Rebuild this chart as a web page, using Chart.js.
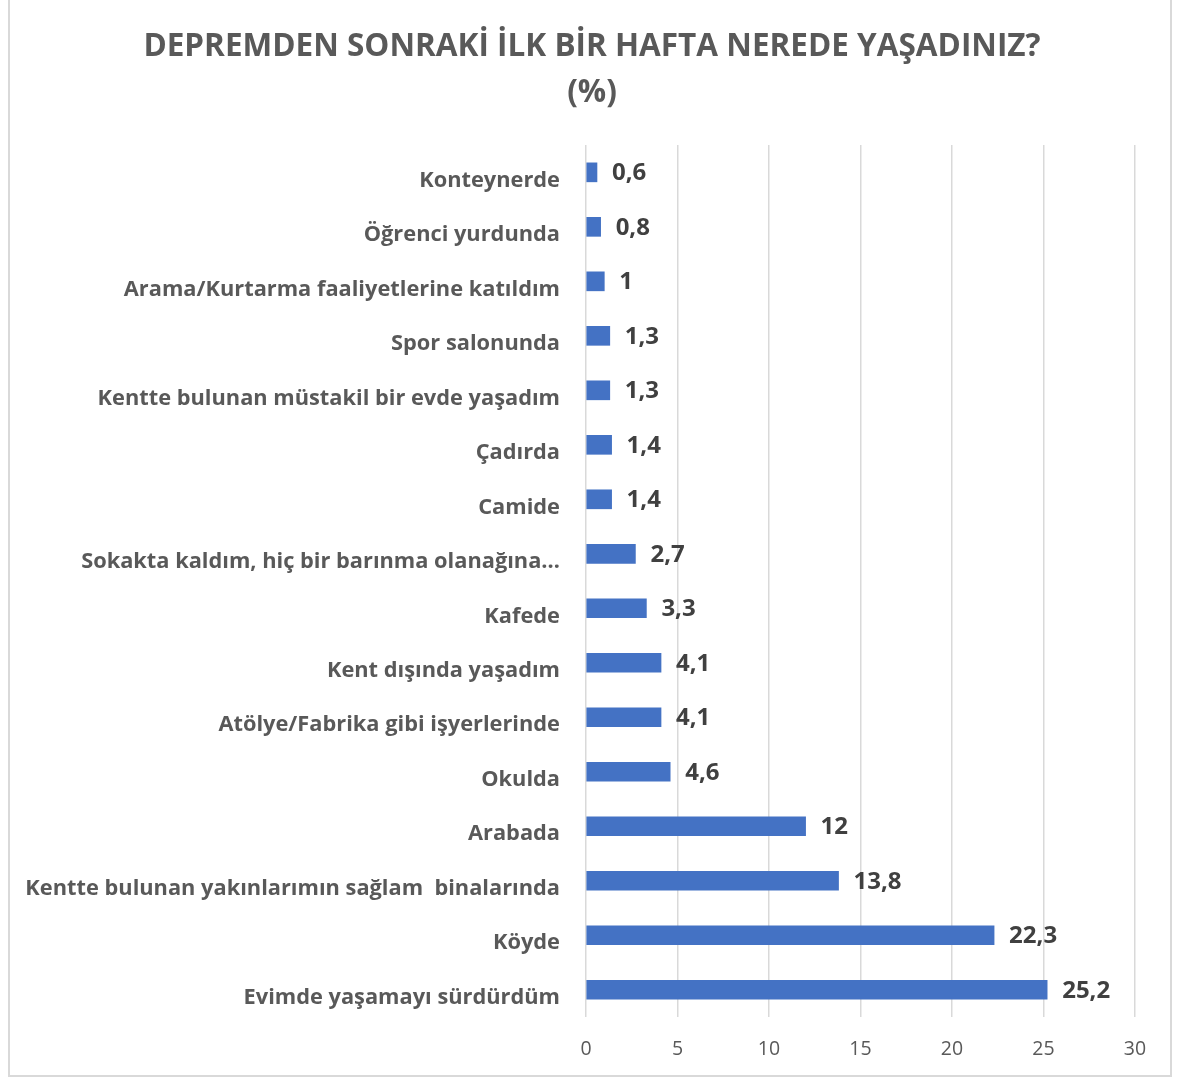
<!DOCTYPE html>
<html>
<head>
<meta charset="utf-8">
<script src="https://cdn.jsdelivr.net/npm/chart.js@4"></script>
<style>
    body { margin: 0; background: #fff; }
    #wrap { position: relative; width: 1178px; height: 1079px; }
    #frame { position: absolute; left: 8px; top: -2px; width: 1160px; height: 1075px; border: 2px solid #d9d9d9; }
    canvas { position: absolute; left: 0; top: 0; }
</style>
</head>
<body>
<div id="wrap">
    <div id="frame"></div>
    <canvas id="placesChart" width="1178" height="1079"></canvas>
</div>
<script>
// survey answers, top to bottom as shown
var categories = [
    'Konteynerde',
    'Öğrenci yurdunda',
    'Arama/Kurtarma faaliyetlerine katıldım',
    'Spor salonunda',
    'Kentte bulunan müstakil bir evde yaşadım',
    'Çadırda',
    'Camide',
    'Sokakta kaldım, hiç bir barınma olanağına…',
    'Kafede',
    'Kent dışında yaşadım',
    'Atölye/Fabrika gibi işyerlerinde',
    'Okulda',
    'Arabada',
    'Kentte bulunan yakınlarımın sağlam  binalarında',
    'Köyde',
    'Evimde yaşamayı sürdürdüm'
];
var percentages = [0.6, 0.8, 1, 1.3, 1.3, 1.4, 1.4, 2.7, 3.3, 4.1, 4.1, 4.6, 12, 13.8, 22.3, 25.2];
var xTicks = [0, 5, 10, 15, 20, 25, 30];
var titleLines = ['DEPREMDEN SONRAKİ İLK BİR HAFTA NEREDE YAŞADINIZ?', '(%)'];

var FONT = '"Open Sans", Lato, sans-serif';

// value labels to the right of each bar
var barLabels = {
    id: 'barLabels',
    afterDatasetsDraw: function(chart) {
        var ctx = chart.ctx;
        var meta = chart.getDatasetMeta(0);
        ctx.save();
        ctx.font = 'bold 24px ' + FONT;
        ctx.fillStyle = '#404040';
        ctx.textAlign = 'left';
        ctx.textBaseline = 'middle';
        meta.data.forEach(function(bar, i) {
            var txt = String(percentages[i]).replace('.', ',');
            ctx.fillText(txt, bar.x + 15, bar.y + 1);
        });
        ctx.restore();
    }
};

// centre the title like the original (shifted a bit right of canvas centre)
var titleShift = {
    id: 'titleShift',
    afterLayout: function(chart) {
        if (chart.titleBlock) {
            chart.titleBlock.left += 49;
            chart.titleBlock.width -= 49;
        }
    }
};

var ctx = document.getElementById('placesChart').getContext('2d');
var placesChart = new Chart(ctx, {
    type: 'bar',
    data: {
        labels: categories,
        datasets: [{
            data: percentages,
            backgroundColor: '#4472c4',
            borderWidth: 0,
            barThickness: 19
        }]
    },
    options: {
        indexAxis: 'y',
        responsive: false,
        animation: false,
        layout: { padding: { left: 0, right: 43, top: 0, bottom: 0 } },
        plugins: {
            legend: { display: false },
            tooltip: { enabled: false },
            title: {
                display: true,
                text: titleLines,
                color: '#595959',
                font: { family: FONT, size: 31.5, weight: 'bold', lineHeight: 1.43 },
                padding: { top: 25, bottom: 30 }
            }
        },
        scales: {
            x: {
                min: 0,
                max: 30,
                afterBuildTicks: function(axis) {
                    axis.ticks = xTicks.map(function(v) { return { value: v }; });
                },
                afterFit: function(axis) { axis.height = 62; },
                grid: { color: '#d9d9d9', lineWidth: 1.5, drawTicks: false },
                border: { display: false },
                ticks: { color: '#595959', font: { family: FONT, size: 19.5 }, padding: 21 }
            },
            y: {
                afterFit: function(axis) { axis.width = 586; },
                grid: { display: false, drawTicks: false },
                border: { display: false },
                ticks: { color: '#595959', font: { family: FONT, size: 21.8, weight: 'bold' }, padding: 26, labelOffset: 8 }
            }
        }
    },
    plugins: [barLabels, titleShift]
});
</script>
</body>
</html>
